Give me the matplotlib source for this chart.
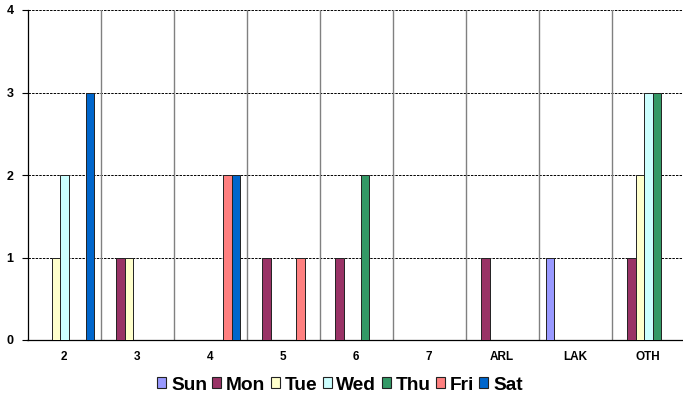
import matplotlib
matplotlib.use("Agg")
import matplotlib.pyplot as plt
import numpy as np

categories = ["2", "3", "4", "5", "6", "7", "ARL", "LAK", "OTH"]
series_names = ["Sun", "Mon", "Tue", "Wed", "Thu", "Fri", "Sat"]
sun = [0, 0, 0, 0, 0, 0, 0, 1, 0]
mon = [0, 1, 0, 1, 1, 0, 1, 0, 1]
tue = [1, 1, 0, 0, 0, 0, 0, 0, 2]
wed = [2, 0, 0, 0, 0, 0, 0, 0, 3]
thu = [0, 0, 0, 0, 2, 0, 0, 0, 3]
fri = [0, 0, 2, 1, 0, 0, 0, 0, 0]
sat = [3, 0, 2, 0, 0, 0, 0, 0, 0]
series = [sun, mon, tue, wed, thu, fri, sat]
colors = ["#9999FF", "#993366", "#FFFFCC", "#CCFFFF", "#339966", "#FF8080", "#0066CC"]
y_ticks = [0, 1, 2, 3, 4]

plt.rcParams['font.family'] = ['Liberation Sans', 'DejaVu Sans']
fig = plt.figure(figsize=(6.83, 4.08), dpi=100)
ax = fig.add_axes([27.5/683, 1-340/408, 657/683, 330/408])

n = len(categories)
x = np.arange(n)
bw = 0.1164
group_w = bw * len(series)
for i, (vals, c, name) in enumerate(zip(series, colors, series_names)):
    pos = x - group_w/2 + bw*(i+0.5) + 0.005
    ax.bar(pos, vals, width=bw, color=c, edgecolor="#222222", linewidth=0.7, label=name, zorder=3)

ax.set_xlim(-0.5, n-0.5)
ax.set_ylim(0, 4)
ax.set_yticks(y_ticks)
ax.set_yticklabels([str(t) for t in y_ticks], fontsize=9, fontweight='bold')
ax.set_xticks(x)
ax.set_xticklabels(categories, fontsize=8.5, fontweight='bold')
ax.tick_params(axis='x', length=0, pad=8)
ax.tick_params(axis='y', length=4, width=0.8, direction='out', pad=6)

for yv in y_ticks[1:]:
    ax.axhline(yv, color="black", linewidth=0.7, linestyle=(0, (2.5, 1.2)), zorder=1)
for b in np.arange(0.5, n-0.5, 1.0):
    ax.axvline(b, color="#808080", linewidth=1.0, zorder=1)

for s in ['top', 'right']:
    ax.spines[s].set_visible(False)
ax.spines['left'].set_linewidth(0.9)
ax.spines['bottom'].set_linewidth(0.9)

leg = fig.legend(loc='center', bbox_to_anchor=(340/683, 1-385/408), ncol=7, frameon=False,
                 prop={'size': 13.8, 'weight': 'bold'}, handlelength=0.47, handleheight=0.47,
                 handletextpad=0.25, columnspacing=0.28)
for h in leg.legend_handles:
    h.set_edgecolor("#222222")
    h.set_linewidth(0.8)

fig.savefig("out.png", dpi=100)
